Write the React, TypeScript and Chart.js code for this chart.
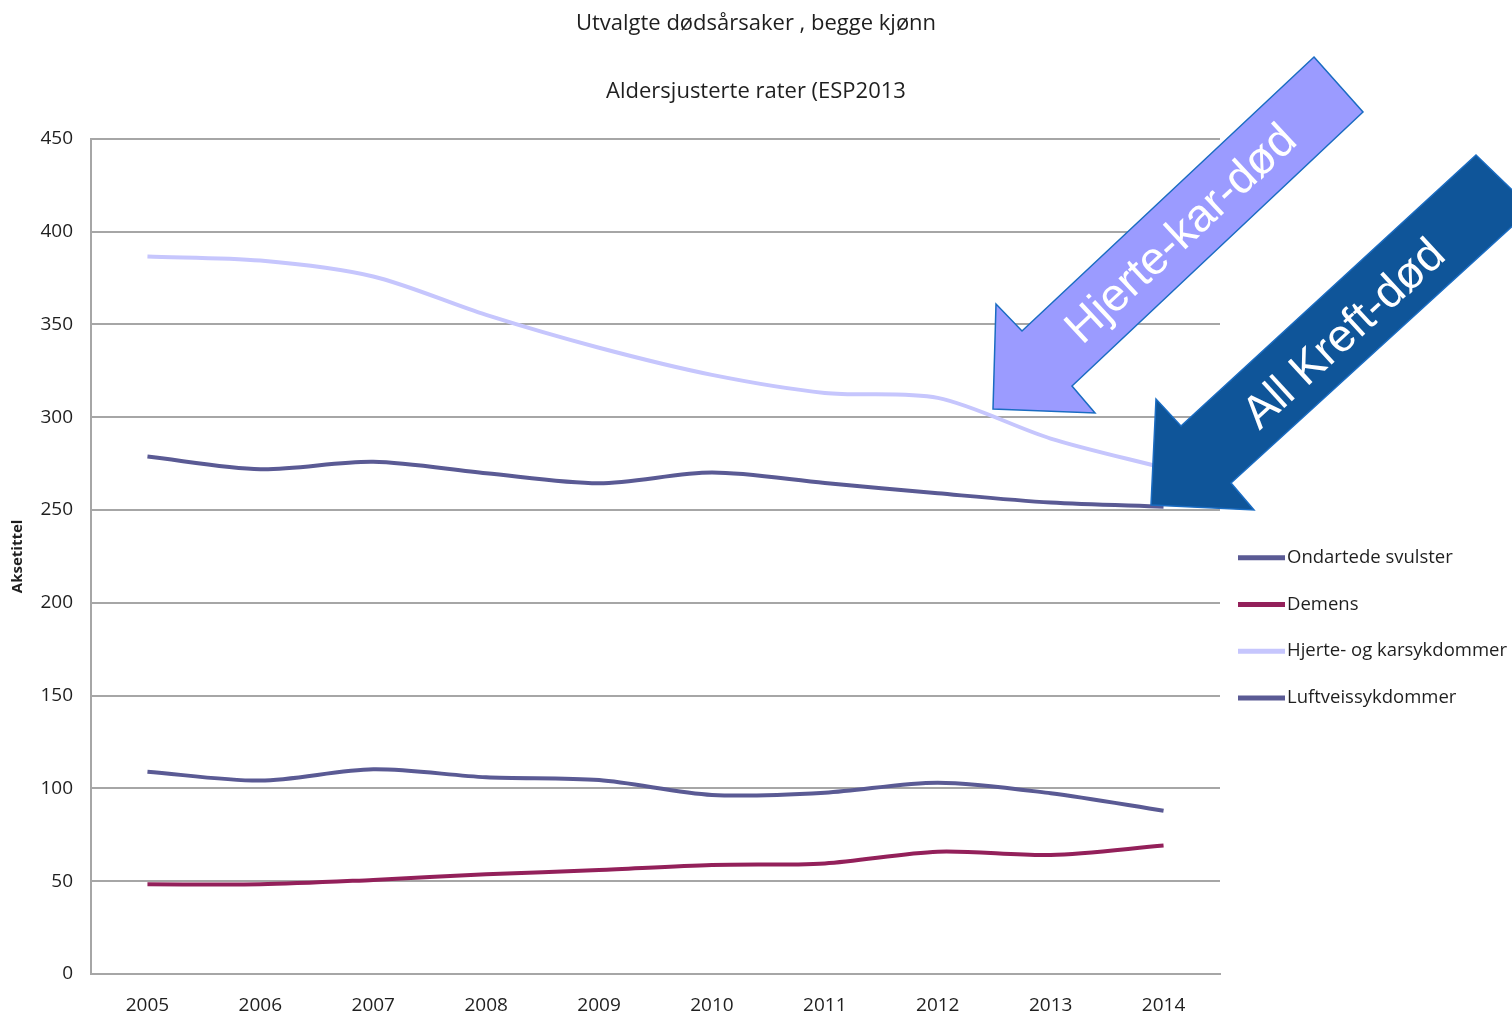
import React, { useEffect, useRef } from 'react';
import { Chart, registerables } from 'chart.js';

Chart.register(...registerables);

// ---- data ----
const years = ['2005', '2006', '2007', '2008', '2009', '2010', '2011', '2012', '2013', '2014'];
const ondartedeSvulster = [278.8, 272.0, 276.0, 269.8, 264.4, 270.2, 264.6, 259.0, 254.0, 251.8];
const demens = [48.3, 48.3, 50.7, 53.7, 56.0, 58.7, 59.6, 65.9, 64.1, 69.2];
const hjerteKar = [386.6, 384.4, 375.8, 355.1, 337.4, 322.8, 313.1, 310.4, 288.5, 272.7];
const luftveis = [109.0, 104.2, 110.3, 106.0, 104.5, 96.5, 97.7, 103.1, 97.4, 88.0];
const seriesNames = ['Ondartede svulster', 'Demens', 'Hjerte- og karsykdommer', 'Luftveissykdommer'];
const seriesColors = ['#5a5a94', '#93205a', '#c6c6fd', '#5a5a94'];
const yMin = 0;
const yMax = 450;
const yStep = 50;
const titleText = 'Utvalgte dødsårsaker , begge kjønn';
const subtitleText = 'Aldersjusterte rater (ESP2013';
const yAxisTitle = 'Aksetittel';
const arrowLabels = ['Hjerte-kar-død', 'All Kreft-død'];

const FONT = '"Open Sans", "DejaVu Sans", sans-serif';
const TEXT = '#1f1f1f';

const legendPlugin = {
  id: 'sideLegend',
  afterDraw(chart: any) {
    const { ctx, chartArea } = chart;
    const x0 = chartArea.right + 18;
    const y0 = chartArea.top + 419;
    const gap = 46.7;
    ctx.save();
    chart.data.datasets.forEach((ds: any, i: number) => {
      const y = y0 + i * gap;
      ctx.strokeStyle = ds.borderColor;
      ctx.lineWidth = 5;
      ctx.beginPath();
      ctx.moveTo(x0, y);
      ctx.lineTo(x0 + 47, y);
      ctx.stroke();
      ctx.fillStyle = TEXT;
      ctx.font = `18.5px ${FONT}`;
      ctx.textBaseline = 'middle';
      ctx.textAlign = 'left';
      ctx.fillText(ds.label, x0 + 49, y);
    });
    ctx.restore();
  },
};

const arrowPlugin = {
  id: 'arrows',
  afterDraw(chart: any) {
    const { ctx } = chart;
    const drawArrow = (pts: number[][], fill: string) => {
      ctx.beginPath();
      pts.forEach((p, i) => (i === 0 ? ctx.moveTo(p[0], p[1]) : ctx.lineTo(p[0], p[1])));
      ctx.closePath();
      ctx.fillStyle = fill;
      ctx.fill();
      ctx.strokeStyle = '#1a6cc2';
      ctx.lineWidth = 1.5;
      ctx.stroke();
    };
    const drawLabel = (text: string, cx: number, cy: number, deg: number) => {
      ctx.save();
      ctx.translate(cx, cy);
      ctx.rotate((deg * Math.PI) / 180);
      ctx.fillStyle = '#ffffff';
      ctx.font = '46px "Liberation Sans", Arial, sans-serif';
      ctx.textAlign = 'center';
      ctx.textBaseline = 'middle';
      ctx.fillText(text, 0, 0);
      ctx.restore();
    };
    ctx.save();
    drawArrow(
      [
        [1314, 57],
        [1363, 112],
        [1072, 386],
        [1095, 413],
        [993, 409],
        [996, 304],
        [1022, 331],
      ],
      '#9b9bff'
    );
    drawLabel(arrowLabels[0], 1182, 235, -43);
    drawArrow(
      [
        [1476, 155],
        [1530, 207],
        [1530, 210],
        [1231, 483],
        [1254, 510],
        [1151, 505],
        [1156, 399],
        [1181, 426],
      ],
      '#0f5599'
    );
    drawLabel(arrowLabels[1], 1345, 335, -42.6);
    ctx.restore();
  },
};

export default function App() {
  const canvasRef = useRef<HTMLCanvasElement | null>(null);

  useEffect(() => {
    if (!canvasRef.current) return;
    const seriesData = [ondartedeSvulster, demens, hjerteKar, luftveis];
    const chart = new Chart(canvasRef.current, {
      type: 'line',
      data: {
        labels: years,
        datasets: seriesData.map((d, i) => ({
          label: seriesNames[i],
          data: d,
          borderColor: seriesColors[i],
          backgroundColor: seriesColors[i],
          borderWidth: 4,
          pointRadius: 0,
          tension: 0.3,
          fill: false,
          yAxisID: 'y',
        })),
      },
      options: {
        animation: false,
        responsive: true,
        maintainAspectRatio: false,
        layout: { padding: { left: 0, right: 0, top: 0, bottom: 0 } },
        plugins: {
          legend: { display: false },
          tooltip: { enabled: false },
          title: {
            display: true,
            text: titleText,
            color: TEXT,
            font: { family: FONT, size: 22, weight: 'normal', lineHeight: 1.2 },
            padding: { top: 10.8, bottom: 41.4 },
          },
          subtitle: {
            display: true,
            text: subtitleText,
            color: TEXT,
            font: { family: FONT, size: 22, weight: 'normal', lineHeight: 1.2 },
            padding: { top: 0, bottom: 33.8 },
          },
        },
        scales: {
          x: {
            type: 'category',
            offset: true,
            grid: { display: false, drawTicks: false },
            border: { display: true, color: '#a6a6a6', width: 2 },
            ticks: { color: TEXT, padding: 20.6, font: { family: FONT, size: 19, lineHeight: 1.2 }, maxRotation: 0 },
            afterFit: (s: any) => {
              s.height = 44;
            },
          },
          y: {
            min: yMin,
            max: yMax,
            grid: { color: '#a6a6a6', lineWidth: 2, drawTicks: false },
            border: { display: true, color: '#a6a6a6', width: 2 },
            ticks: { stepSize: yStep, color: TEXT, padding: 18, font: { family: FONT, size: 19 } },
            title: {
              display: true,
              text: yAxisTitle,
              color: TEXT,
              font: { family: FONT, size: 15, weight: 'bold', lineHeight: 1.2 },
              padding: { top: 9, bottom: 0 },
            },
            afterFit: (s: any) => {
              s.width = 91;
            },
          },
          legendSpace: {
            type: 'linear',
            position: 'right',
            display: true,
            min: yMin,
            max: yMax,
            grid: { display: false, drawTicks: false, drawOnChartArea: false },
            border: { display: false },
            ticks: { display: false },
            afterFit: (s: any) => {
              s.width = 292;
            },
          },
        },
      },
      plugins: [legendPlugin, arrowPlugin],
    } as any);
    return () => chart.destroy();
  }, []);

  return (
    <div style={{ position: 'absolute', left: 0, top: 0, width: 1512, height: 1018, background: '#fff' }}>
      <canvas ref={canvasRef} />
    </div>
  );
}
